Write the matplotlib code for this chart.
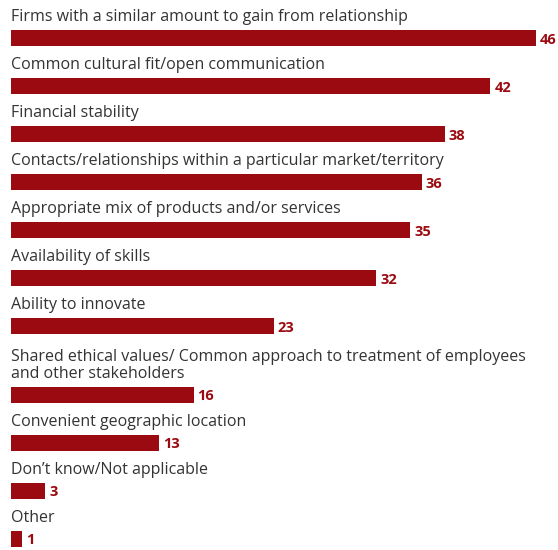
import matplotlib.pyplot as plt

# 回答カテゴリと割合(%)
labels = [
    'Firms with a similar amount to gain from relationship',
    'Common cultural fit/open communication',
    'Financial stability',
    'Contacts/relationships within a particular market/territory',
    'Appropriate mix of products and/or services',
    'Availability of skills',
    'Ability to innovate',
    'Shared ethical values/ Common approach to treatment of employees\nand other stakeholders',
    'Convenient geographic location',
    'Don\u2019t know/Not applicable',
    'Other',
]
values = [46, 42, 38, 36, 35, 32, 23, 16, 13, 3, 1]

bar_color = '#9B0A10'
text_color = '#333333'

plt.rcParams['font.family'] = ['Open Sans', 'DejaVu Sans']

fig = plt.figure(figsize=(5.58, 5.50), dpi=100)
ax = fig.add_axes([0, 0, 1, 1])

# 行の位置(ピクセル単位): 2行ラベルの行はその分だけ下げる
row_step = 48
line_step = 21
centers = []
extra = 0
for i, lab in enumerate(labels):
    extra += line_step * lab.count('\n')
    centers.append(38 + row_step * i + extra)

bar_h = 16
ax.barh(centers, values, height=bar_h, color=bar_color, linewidth=0)

for c, lab, v in zip(centers, labels, values):
    ax.text(0, c - bar_h / 2 - 5, lab, ha='left', va='bottom',
            fontsize=11.5, color=text_color, linespacing=1.05)
    ax.text(v + 0.35, c + 1.5, str(v), ha='left', va='center',
            fontsize=10.5, fontweight='bold', color=bar_color)

px_per_unit = 525 / 46
ax.set_xlim(-11 / px_per_unit, (558 - 11) / px_per_unit)
ax.set_ylim(550, 0)
ax.axis('off')

fig.savefig('out.png', dpi=100)
